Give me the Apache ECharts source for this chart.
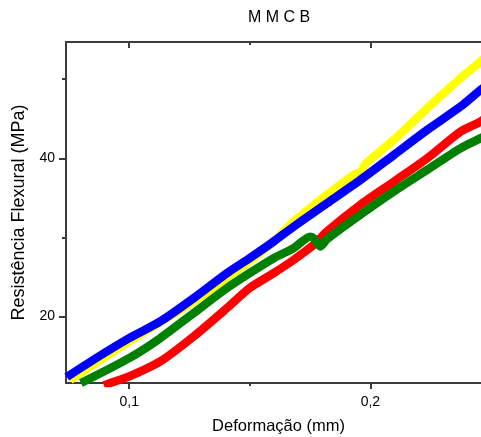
<!DOCTYPE html>
<html>
<head>
<meta charset="utf-8">
<script src="https://cdn.jsdelivr.net/npm/echarts@6/dist/echarts.min.js"></script>
<style>
  html, body { margin: 0; padding: 0; background: #ffffff; }
  #chart { width: 481px; height: 437px; }
</style>
</head>
<body>
<div id="chart"></div>
<script>
// Texts
const titleText = 'M M C B';
const xAxisTitle = 'Deformação (mm)';
const yAxisTitle = 'Resistência Flexural (MPa)';

// Axis ranges and tick positions
const xRange = [0.0738, 0.25];
const yRange = [11.6, 54.7];
const xMajorTicks = [0.1, 0.2];
const xMinorTicks = [0.15];
const yMajorTicks = [20, 40];
const yMinorTicks = [30, 50];

// Curves: deformation (mm) vs flexural strength (MPa)
const yellowX = [0.0755, 0.1000, 0.1267, 0.1488, 0.1599, 0.1682, 0.1820, 0.1931, 0.1965, 0.1979, 0.2097, 0.2235, 0.2373, 0.2456, 0.2480];
const yellowY = [12.00, 16.85, 21.90, 26.74, 29.48, 32.00, 35.37, 37.90, 38.40, 39.28, 42.31, 46.31, 50.10, 52.20, 52.90];

const blueX = [0.0741, 0.0852, 0.1000, 0.1129, 0.1267, 0.1405, 0.1499, 0.1599, 0.1682, 0.1820, 0.1958, 0.2097, 0.2235, 0.2373, 0.2456, 0.2480];
const blueY = [12.35, 14.54, 17.27, 19.38, 22.32, 25.48, 27.37, 29.48, 31.37, 34.32, 37.26, 40.42, 43.58, 46.52, 48.63, 49.20];

const redX = [0.0895, 0.0921, 0.1000, 0.1129, 0.1267, 0.1405, 0.1499, 0.1599, 0.1682, 0.1765, 0.1820, 0.1958, 0.2097, 0.2235, 0.2373, 0.2456, 0.2480];
const redY = [11.30, 11.60, 12.43, 14.33, 17.48, 21.06, 23.59, 25.48, 27.16, 29.06, 30.74, 34.11, 37.05, 40.00, 43.37, 44.63, 45.20];

const greenX = [0.0800, 0.1000, 0.1129, 0.1267, 0.1405, 0.1499, 0.1599, 0.1682, 0.1751, 0.1765, 0.1793, 0.1820, 0.1958, 0.2097, 0.2235, 0.2373, 0.2456, 0.2480];
const greenY = [11.60, 14.75, 17.27, 20.43, 23.59, 25.48, 27.37, 28.64, 30.10, 29.90, 28.85, 29.77, 32.85, 35.80, 38.53, 41.26, 42.53, 42.90];

const FONT = 'Liberation Sans, Arial, Helvetica, sans-serif';
const AXIS_COLOR = '#3c3c3c';

function pairs(xs, ys) {
  return xs.map((x, i) => [x, ys[i]]);
}

function curve(name, color, xs, ys) {
  return {
    name: name,
    type: 'line',
    xAxisIndex: 0,
    yAxisIndex: 0,
    data: pairs(xs, ys),
    showSymbol: false,
    symbol: 'none',
    smooth: 0.25,
    clip: true,
    lineStyle: { color: color, width: 8.5, cap: 'butt', join: 'round' },
    itemStyle: { color: color },
    emphasis: { disabled: true }
  };
}

function xAxisDef(position, ticks, length, inside, withLabels, withLine, name) {
  return {
    type: 'value',
    position: position,
    min: xRange[0],
    max: xRange[1],
    name: name || '',
    nameLocation: 'middle',
    nameGap: 35,
    nameTextStyle: { fontFamily: FONT, fontSize: 16.5, color: '#000' },
    axisLine: { show: withLine, onZero: false, lineStyle: { color: AXIS_COLOR, width: 2 } },
    axisTick: { show: true, inside: inside, length: length, customValues: ticks,
                lineStyle: { color: AXIS_COLOR, width: 2 } },
    axisLabel: { show: withLabels, customValues: ticks, margin: 12,
                 fontFamily: FONT, fontSize: 14, color: '#000',
                 formatter: v => v.toFixed(1).replace('.', ',') },
    splitLine: { show: false },
    minorTick: { show: false }
  };
}

function yAxisDef(ticks, length, withLabels, withLine, name) {
  return {
    type: 'value',
    position: 'left',
    min: yRange[0],
    max: yRange[1],
    name: name || '',
    nameLocation: 'middle',
    nameGap: 35,
    nameRotate: 90,
    nameTextStyle: { fontFamily: FONT, fontSize: 18, color: '#000' },
    axisLine: { show: withLine, onZero: false, lineStyle: { color: AXIS_COLOR, width: 2 } },
    axisTick: { show: true, inside: false, length: length, customValues: ticks,
                lineStyle: { color: AXIS_COLOR, width: 2 } },
    axisLabel: { show: withLabels, customValues: ticks, margin: 11,
                 fontFamily: FONT, fontSize: 14, color: '#000',
                 formatter: v => String(v) },
    splitLine: { show: false },
    minorTick: { show: false }
  };
}

const chart = echarts.init(document.getElementById('chart'), null, { renderer: 'canvas' });

chart.setOption({
  animation: false,
  backgroundColor: '#ffffff',
  title: {
    text: titleText,
    left: 279,
    top: 10,
    textAlign: 'center',
    padding: 0,
    textStyle: { fontFamily: FONT, fontSize: 16, fontWeight: 'normal', color: '#000' }
  },
  grid: { left: 66, top: 42, right: -10, bottom: 54, containLabel: false, outerBoundsMode: 'none' },
  xAxis: [
    xAxisDef('bottom', xMajorTicks, 6, false, true, true, xAxisTitle),
    xAxisDef('bottom', xMinorTicks, 3, false, false, false),
    xAxisDef('top', xMajorTicks, 6, true, false, true),
    xAxisDef('top', xMinorTicks, 3, true, false, false)
  ],
  yAxis: [
    yAxisDef(yMajorTicks, 7, true, true, yAxisTitle),
    yAxisDef(yMinorTicks, 4, false, false)
  ],
  series: [
    curve('Amarelo', '#ffff00', yellowX, yellowY),
    curve('Azul', '#0000ff', blueX, blueY),
    curve('Vermelho', '#ff0000', redX, redY),
    curve('Verde', '#008000', greenX, greenY)
  ]
});
</script>
</body>
</html>
